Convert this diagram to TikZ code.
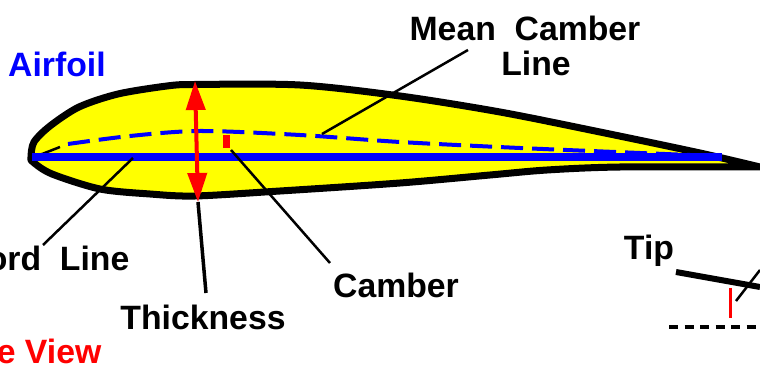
\documentclass[tikz,border=0pt]{standalone}
\usepackage{fontspec}
\setmainfont{Liberation Sans}
\usepackage{xcolor}
\usetikzlibrary{arrows.meta}
\definecolor{foilyellow}{RGB}{255,255,0}
\definecolor{foilblue}{RGB}{0,0,255}
\definecolor{foilred}{RGB}{255,0,0}
\tikzset{
	label/.style={inner sep=0pt,anchor=center,text=black,font=\fontsize{9.6}{11}\selectfont\bfseries},
	bluelabel/.style={label,text=foilblue},
	redlabel/.style={label,text=foilred},
	foil/.style={draw=black,line width=0.07cm,fill=foilyellow,line join=round},
	leader/.style={draw=black,line width=0.025cm},
	chord/.style={draw=foilblue,line width=0.075cm},
	camber/.style={draw=foilblue,line width=0.04cm,dash pattern=on 0.22cm off 0.09cm},
	thick/.style={draw=foilred,line width=0.04cm,{Triangle[length=0.29cm,width=0.19cm]}-{Triangle[length=0.29cm,width=0.19cm]}},
}
\begin{document}
\begin{tikzpicture}[x=0.01cm,y=-0.01cm]
	\useasboundingbox (0,0) rectangle (760,370);

	% Airfoil outline
	\draw[foil] plot[smooth,tension=0.5] coordinates {(760,167) (700,153) (600,132) (500,112) (400,96) (300,85) (195,84.5) (167,86) (118,94) (79,107) (50,126) (34,142) (31,157) (33,162) (52,174) (100,189) (150,194) (195,196) (280,191) (400,183) (490,175) (547,170) (620,167) (760,167)};

	% Lines inside the airfoil
	\draw[leader] (37,156) -- (60,147);
	\draw[camber] plot[smooth] coordinates {(68,144) (130,136) (200,131) (300,135) (400,142) (520,148) (640,153) (690,155)};
	\draw[chord] (32,157) -- (722,157);

	% Labels
	\node[bluelabel] (airfoil) at (57,64) {Airfoil};
	\node[label] (mean) at (525,28) {Mean\ \ Camber};
	\node[label] (line) at (536,63) {Line};
	\node[label,anchor=east] (chordline) at (130,258) {ord\ \ Line};
	\node[label] (thickness) at (203,317) {Thickness};
	\node[label] (camberlabel) at (396,285) {Camber};
	\node[redlabel,anchor=east] (view) at (102,351) {e View};
	\node[label] (tip) at (649,251) {Tip};

	% Free ends of the connectors
	\coordinate (meanend) at (322,134);
	\coordinate (meanstart) at (468,50);
	\coordinate (chordend) at (133,158);
	\coordinate (chordstart) at (43,245);
	\coordinate (thicktop) at (195,81);
	\coordinate (thickbot) at (198,202);
	\coordinate (thickstart) at (206,293);
	\coordinate (camberend) at (231,150);
	\coordinate (camberstart) at (330,263);
	\coordinate (tipleft) at (676,272);
	\coordinate (tipright) at (760,287);
	\coordinate (tiptick) at (730,288);
	\coordinate (tipfoot) at (730,318);
	\coordinate (tipdashl) at (669,327);
	\coordinate (tipdashr) at (760,327);
	\coordinate (tipleadl) at (736,301);
	\coordinate (tipleadr) at (760,270);

	% Connectors
	\draw[leader] (meanstart) -- (meanend);
	\draw[leader] (chordstart) -- (chordend);
	\draw[leader,line width=0.035cm] (thickstart) -- (thickbot);
	\draw[leader] (camberstart) -- (camberend);
	\draw[thick] (thicktop) -- (thickbot);
	\fill[foilred] (223,135) rectangle (230,148);

	% Wing tip
	\draw[draw=black,line width=0.06cm] (tipleft) -- (tipright);
	\draw[draw=foilred,line width=0.03cm] (tiptick) -- (tipfoot);
	\draw[draw=black,line width=0.035cm,dash pattern=on 0.09cm off 0.065cm] (tipdashl) -- (tipdashr);
	\draw[leader] (tipleadl) -- (tipleadr);
\end{tikzpicture}
\end{document}
